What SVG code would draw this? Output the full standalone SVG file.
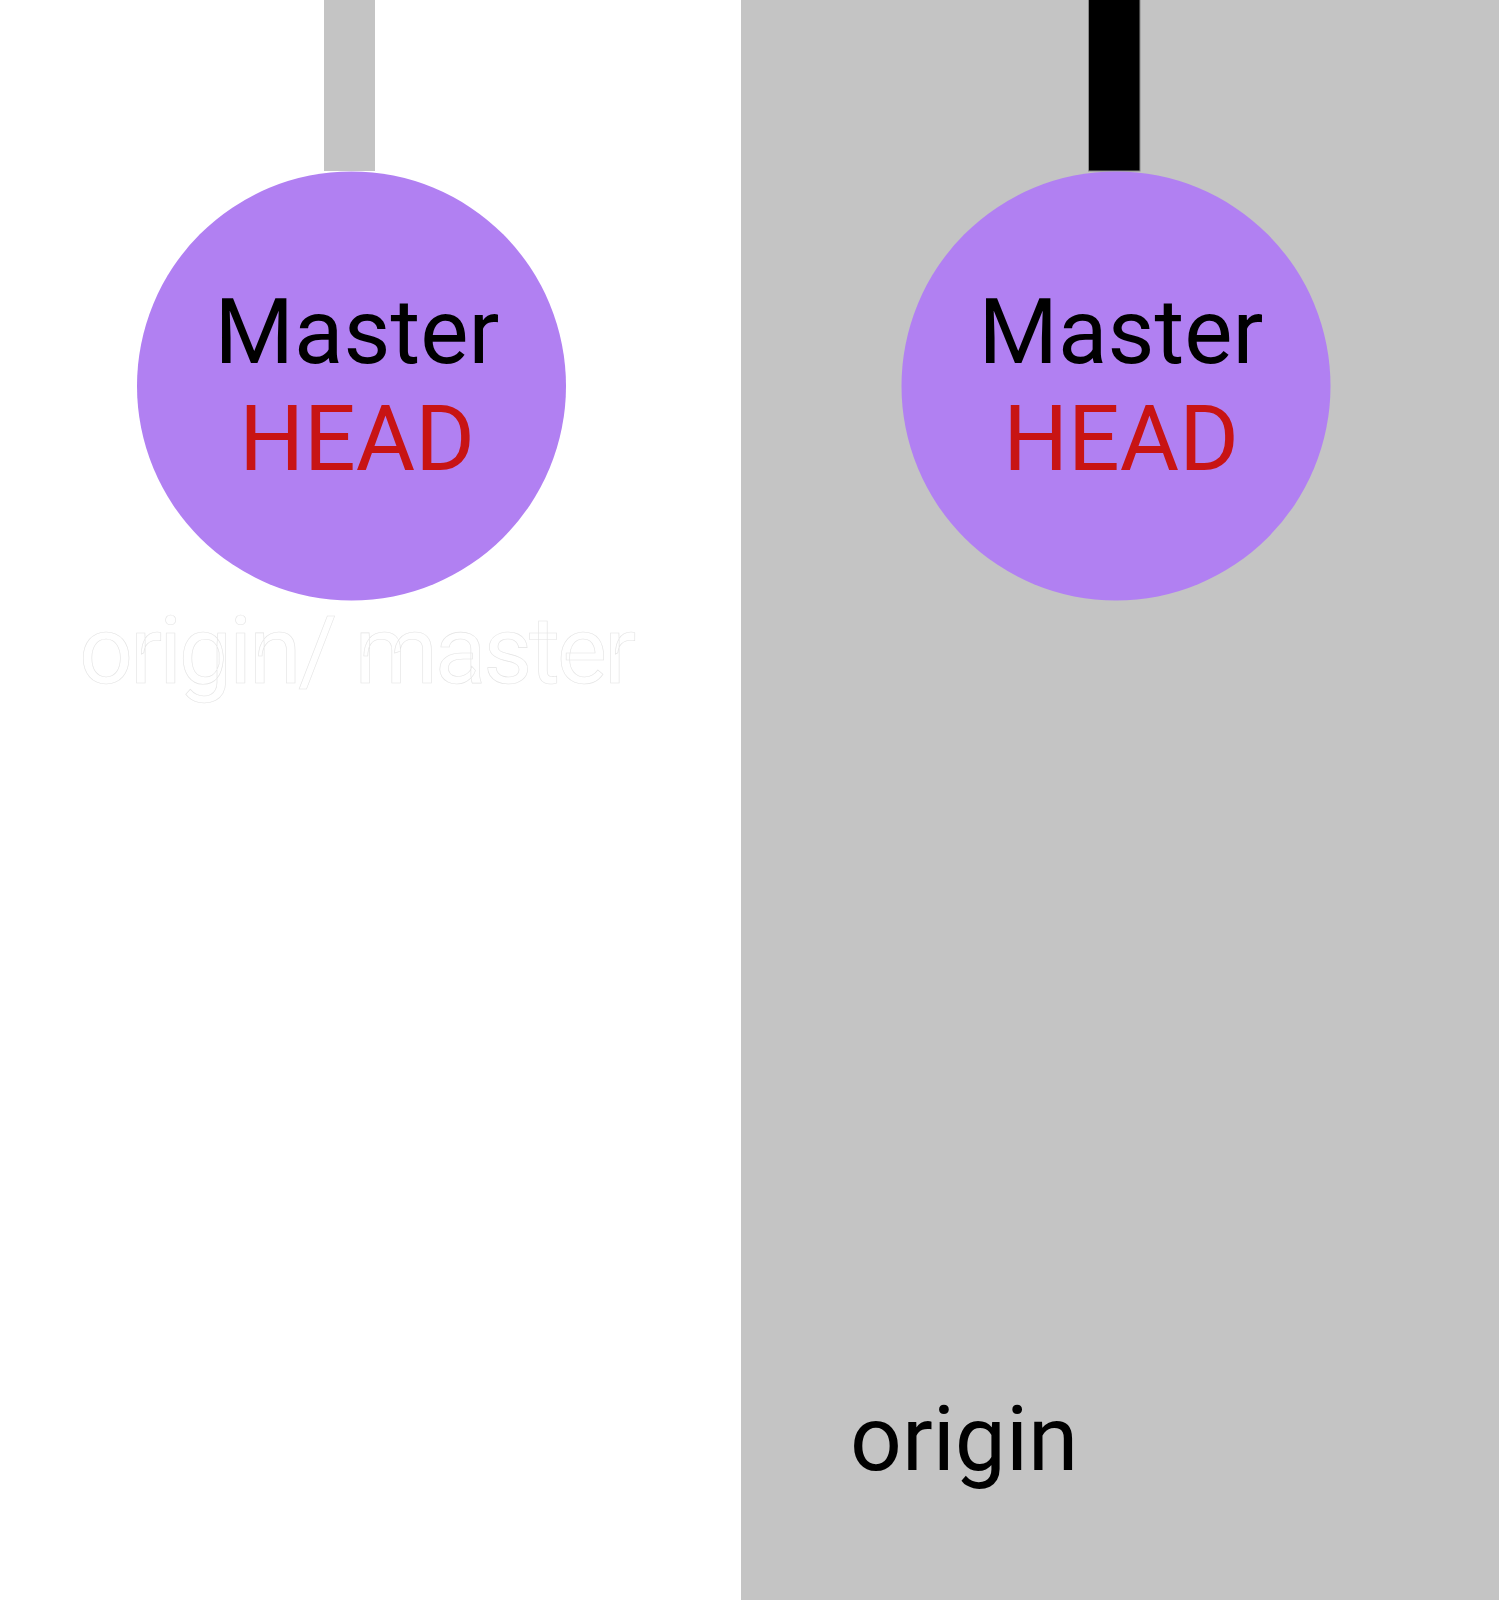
<svg xmlns="http://www.w3.org/2000/svg" width="1499" height="1600" viewBox="0 0 1499 1600">
<style>
.node{fill:#b180f2}
.t{font-family:Roboto,"Liberation Sans",sans-serif;font-size:91px}
.m{fill:#000;text-anchor:middle}
.h{fill:#c81414;text-anchor:middle}
</style>
<rect x="0" y="0" width="1499" height="1600" fill="#ffffff"/>
<rect id="remote-panel" x="741" y="0" width="758" height="1600" fill="#c4c4c4"/>
<g id="connectors">
<rect x="324" y="0" width="51" height="171" fill="#c4c4c4"/>
<rect x="1088.5" y="-1" width="51.5" height="172" fill="#000" stroke="#8a8a8a" stroke-width="1"/>
</g>
<g id="local-master">
<circle class="node" cx="351.5" cy="386" r="214.5"/>
<text class="t m" x="357" y="363">Master</text>
<text class="t h" x="357" y="470">HEAD</text>
</g>
<g id="remote-master">
<circle class="node" cx="1116" cy="386" r="214.5"/>
<text class="t m" x="1121" y="363">Master</text>
<text class="t h" x="1121" y="470">HEAD</text>
</g>
<text id="label-origin-master" x="79" y="683" font-family="Roboto,'Liberation Sans',sans-serif" font-size="95" letter-spacing="-3.2" fill="#ffffff" stroke="#e4e4e4" stroke-width="0.6">origin/ master</text>
<text id="label-origin" class="t" x="850" y="1470" fill="#000">origin</text>
</svg>
